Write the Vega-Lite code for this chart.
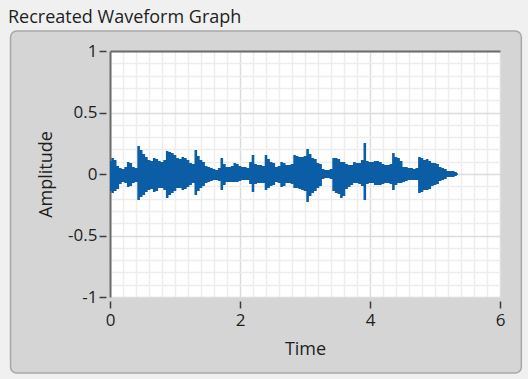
{
  "$schema": "https://vega.github.io/schema/vega-lite/v6.json",
  "width": 390,
  "height": 246,
  "autosize": {"type": "none"},
  "padding": {"left": 110, "top": 51, "right": 28, "bottom": 82},
  "background": "#d5d5d5",
  "title": {
    "text": "Recreated Waveform Graph",
    "anchor": "start",
    "frame": "group",
    "dx": -102,
    "dy": 72,
    "offset": 0,
    "baseline": "alphabetic",
    "font": "Open Sans",
    "fontSize": 18,
    "fontWeight": "normal",
    "color": "#1e1e1e",
    "zindex": 1
  },
  "config": {
    "view": {"fill": "white", "stroke": null},
    "axis": {
      "labelFont": "Open Sans",
      "titleFont": "Open Sans",
      "labelColor": "#1e1e1e",
      "titleColor": "#1e1e1e",
      "labelFontSize": 17,
      "titleFontSize": 18,
      "titleFontWeight": "normal"
    }
  },
  "datasets": {
    "wave": [
      {"t":0.00,"hi":0.106,"lo":-0.138},{"t":0.04,"hi":0.130,"lo":-0.154},{"t":0.08,"hi":0.114,"lo":-0.138},
      {"t":0.12,"hi":0.065,"lo":-0.122},{"t":0.16,"hi":0.049,"lo":-0.081},{"t":0.20,"hi":0.041,"lo":-0.065},
      {"t":0.24,"hi":0.057,"lo":-0.073},{"t":0.28,"hi":0.098,"lo":-0.106},{"t":0.32,"hi":0.089,"lo":-0.098},
      {"t":0.36,"hi":0.057,"lo":-0.073},{"t":0.40,"hi":0.049,"lo":-0.065},{"t":0.44,"hi":0.228,"lo":-0.211},
      {"t":0.48,"hi":0.195,"lo":-0.187},{"t":0.52,"hi":0.163,"lo":-0.171},{"t":0.56,"hi":0.138,"lo":-0.146},
      {"t":0.60,"hi":0.114,"lo":-0.130},{"t":0.64,"hi":0.106,"lo":-0.122},{"t":0.68,"hi":0.130,"lo":-0.146},
      {"t":0.72,"hi":0.122,"lo":-0.138},{"t":0.76,"hi":0.106,"lo":-0.114},{"t":0.80,"hi":0.098,"lo":-0.114},
      {"t":0.84,"hi":0.114,"lo":-0.130},{"t":0.88,"hi":0.187,"lo":-0.195},{"t":0.92,"hi":0.179,"lo":-0.171},
      {"t":0.96,"hi":0.171,"lo":-0.154},{"t":1.00,"hi":0.154,"lo":-0.138},{"t":1.04,"hi":0.130,"lo":-0.114},
      {"t":1.08,"hi":0.122,"lo":-0.114},{"t":1.12,"hi":0.138,"lo":-0.130},{"t":1.16,"hi":0.130,"lo":-0.122},
      {"t":1.20,"hi":0.114,"lo":-0.106},{"t":1.24,"hi":0.089,"lo":-0.089},{"t":1.28,"hi":0.081,"lo":-0.073},
      {"t":1.32,"hi":0.195,"lo":-0.171},{"t":1.36,"hi":0.146,"lo":-0.138},{"t":1.40,"hi":0.114,"lo":-0.114},
      {"t":1.44,"hi":0.098,"lo":-0.098},{"t":1.48,"hi":0.065,"lo":-0.073},{"t":1.52,"hi":0.057,"lo":-0.065},
      {"t":1.56,"hi":0.049,"lo":-0.057},{"t":1.60,"hi":0.041,"lo":-0.049},{"t":1.64,"hi":0.033,"lo":-0.049},
      {"t":1.68,"hi":0.049,"lo":-0.057},{"t":1.72,"hi":0.130,"lo":-0.130},{"t":1.76,"hi":0.081,"lo":-0.089},
      {"t":1.80,"hi":0.057,"lo":-0.065},{"t":1.84,"hi":0.057,"lo":-0.065},{"t":1.88,"hi":0.065,"lo":-0.065},
      {"t":1.92,"hi":0.089,"lo":-0.065},{"t":1.96,"hi":0.081,"lo":-0.065},{"t":2.00,"hi":0.065,"lo":-0.057},
      {"t":2.04,"hi":0.057,"lo":-0.049},{"t":2.08,"hi":0.057,"lo":-0.049},{"t":2.12,"hi":0.049,"lo":-0.049},
      {"t":2.16,"hi":0.098,"lo":-0.081},{"t":2.20,"hi":0.154,"lo":-0.146},{"t":2.24,"hi":0.081,"lo":-0.081},
      {"t":2.28,"hi":0.073,"lo":-0.073},{"t":2.32,"hi":0.073,"lo":-0.073},{"t":2.36,"hi":0.065,"lo":-0.073},
      {"t":2.40,"hi":0.154,"lo":-0.130},{"t":2.44,"hi":0.122,"lo":-0.114},{"t":2.48,"hi":0.098,"lo":-0.098},
      {"t":2.52,"hi":0.089,"lo":-0.089},{"t":2.56,"hi":0.057,"lo":-0.065},{"t":2.60,"hi":0.065,"lo":-0.073},
      {"t":2.64,"hi":0.098,"lo":-0.106},{"t":2.68,"hi":0.089,"lo":-0.098},{"t":2.72,"hi":0.073,"lo":-0.073},
      {"t":2.76,"hi":0.073,"lo":-0.073},{"t":2.80,"hi":0.081,"lo":-0.081},{"t":2.84,"hi":0.154,"lo":-0.114},
      {"t":2.88,"hi":0.146,"lo":-0.114},{"t":2.92,"hi":0.138,"lo":-0.122},{"t":2.96,"hi":0.138,"lo":-0.130},
      {"t":3.00,"hi":0.146,"lo":-0.138},{"t":3.04,"hi":0.203,"lo":-0.228},{"t":3.08,"hi":0.163,"lo":-0.179},
      {"t":3.12,"hi":0.130,"lo":-0.154},{"t":3.16,"hi":0.122,"lo":-0.138},{"t":3.20,"hi":0.089,"lo":-0.114},
      {"t":3.24,"hi":0.081,"lo":-0.098},{"t":3.28,"hi":0.041,"lo":-0.041},{"t":3.32,"hi":0.033,"lo":-0.033},
      {"t":3.36,"hi":0.033,"lo":-0.033},{"t":3.40,"hi":0.041,"lo":-0.041},{"t":3.44,"hi":0.130,"lo":-0.138},
      {"t":3.48,"hi":0.130,"lo":-0.154},{"t":3.52,"hi":0.122,"lo":-0.163},{"t":3.56,"hi":0.098,"lo":-0.195},
      {"t":3.60,"hi":0.098,"lo":-0.179},{"t":3.64,"hi":0.081,"lo":-0.122},{"t":3.68,"hi":0.073,"lo":-0.106},
      {"t":3.72,"hi":0.073,"lo":-0.089},{"t":3.76,"hi":0.098,"lo":-0.073},{"t":3.80,"hi":0.089,"lo":-0.073},
      {"t":3.84,"hi":0.089,"lo":-0.081},{"t":3.88,"hi":0.114,"lo":-0.098},{"t":3.92,"hi":0.252,"lo":-0.211},
      {"t":3.96,"hi":0.106,"lo":-0.081},{"t":4.00,"hi":0.098,"lo":-0.073},{"t":4.04,"hi":0.098,"lo":-0.073},
      {"t":4.08,"hi":0.106,"lo":-0.089},{"t":4.12,"hi":0.106,"lo":-0.089},{"t":4.16,"hi":0.098,"lo":-0.089},
      {"t":4.20,"hi":0.081,"lo":-0.081},{"t":4.24,"hi":0.073,"lo":-0.073},{"t":4.28,"hi":0.073,"lo":-0.073},
      {"t":4.32,"hi":0.081,"lo":-0.081},{"t":4.36,"hi":0.171,"lo":-0.130},{"t":4.40,"hi":0.138,"lo":-0.089},
      {"t":4.44,"hi":0.130,"lo":-0.073},{"t":4.48,"hi":0.106,"lo":-0.073},{"t":4.52,"hi":0.057,"lo":-0.065},
      {"t":4.56,"hi":0.057,"lo":-0.057},{"t":4.60,"hi":0.049,"lo":-0.049},{"t":4.64,"hi":0.049,"lo":-0.049},
      {"t":4.68,"hi":0.041,"lo":-0.049},{"t":4.72,"hi":0.049,"lo":-0.049},{"t":4.76,"hi":0.138,"lo":-0.154},
      {"t":4.80,"hi":0.130,"lo":-0.146},{"t":4.84,"hi":0.114,"lo":-0.130},{"t":4.88,"hi":0.122,"lo":-0.130},
      {"t":4.92,"hi":0.106,"lo":-0.122},{"t":4.96,"hi":0.089,"lo":-0.098},{"t":5.00,"hi":0.089,"lo":-0.089},
      {"t":5.04,"hi":0.081,"lo":-0.081},{"t":5.08,"hi":0.057,"lo":-0.057},{"t":5.12,"hi":0.049,"lo":-0.049},
      {"t":5.16,"hi":0.041,"lo":-0.041},{"t":5.20,"hi":0.024,"lo":-0.024},{"t":5.24,"hi":0.024,"lo":-0.024},
      {"t":5.28,"hi":0.024,"lo":-0.024},{"t":5.32,"hi":0.016,"lo":-0.016},{"t":5.35,"hi":0.008,"lo":-0.008}
    ]
  },
  "resolve": {"axis": {"x": "independent", "y": "independent"}},
  "layer": [
    {
      "description": "minor grid and the dark top/left plot edges",
      "data": {"name": "wave"},
      "mark": {"type": "area", "opacity": 0},
      "encoding": {
        "x": {"field": "t", "type": "quantitative", "scale": {"domain": [0, 6], "nice": false, "zero": false},
          "axis": {"orient": "top", "values": [0.2,0.4,0.6,0.8,1.0,1.2,1.4,1.6,1.8,2.2,2.4,2.6,2.8,3.0,3.2,3.4,3.6,3.8,4.2,4.4,4.6,4.8,5.0,5.2,5.4,5.6,5.8],
            "grid": true, "gridColor": "#ededed", "gridWidth": 1.5, "labels": false, "ticks": false,
            "domain": true, "domainColor": "#6a6a6a", "domainWidth": 2, "title": null}},
        "y": {"field": "hi", "type": "quantitative", "scale": {"domain": [-1, 1], "nice": false, "zero": false},
          "axis": {"orient": "left", "values": [-0.9,-0.8,-0.7,-0.6,-0.4,-0.3,-0.2,-0.1,0.1,0.2,0.3,0.4,0.6,0.7,0.8,0.9],
            "grid": true, "gridColor": "#ededed", "gridWidth": 1.5, "labels": false, "ticks": false,
            "domain": true, "domainColor": "#6a6a6a", "domainWidth": 2, "title": null}},
        "y2": {"field": "lo"}
      }
    },
    {
      "description": "window margin around the rounded graph panel",
      "data": {"values": [{}]},
      "mark": {"type": "rect", "fill": null, "stroke": "#f0f0f0", "strokeWidth": 62, "cornerRadius": 37, "clip": false},
      "encoding": {
        "x": {"datum": -2.008, "axis": null},
        "x2": {"datum": 6.806},
        "y": {"datum": 1.4146, "axis": null},
        "y2": {"datum": -1.87}
      }
    },
    {
      "description": "panel outline",
      "data": {"values": [{}]},
      "mark": {"type": "rect", "fill": null, "stroke": "#a8a8a8", "strokeWidth": 1.5, "cornerRadius": 6, "clip": false},
      "encoding": {
        "x": {"datum": -1.53, "axis": null},
        "x2": {"datum": 6.328},
        "y": {"datum": 1.163, "axis": null},
        "y2": {"datum": -1.618}
      }
    },
    {
      "description": "waveform envelope (min/max per 40 ms)",
      "data": {"name": "wave"},
      "mark": {"type": "area", "interpolate": "step", "color": "#0b5ea6"},
      "encoding": {
        "x": {"field": "t", "type": "quantitative",
          "axis": {"orient": "bottom", "title": "Time", "values": [0, 2, 4, 6], "offset": 4, "domain": false,
            "tickSize": 7, "tickWidth": 1.5, "tickColor": "#3c3c3c", "labelPadding": 4, "titlePadding": 12,
            "grid": true, "gridColor": "#dcdcdc", "gridWidth": 1.5, "labelFlush": false}},
        "y": {"field": "hi", "type": "quantitative",
          "axis": {"orient": "left", "title": "Amplitude", "values": [-1, -0.5, 0, 0.5, 1], "offset": 4, "domain": false,
            "tickSize": 7, "tickWidth": 1.5, "tickColor": "#3c3c3c", "labelPadding": 2, "titlePadding": 12,
            "labelExpr": "'' + datum.value", "grid": true, "gridColor": "#dcdcdc", "gridWidth": 1.5}},
        "y2": {"field": "lo"}
      }
    }
  ]
}
